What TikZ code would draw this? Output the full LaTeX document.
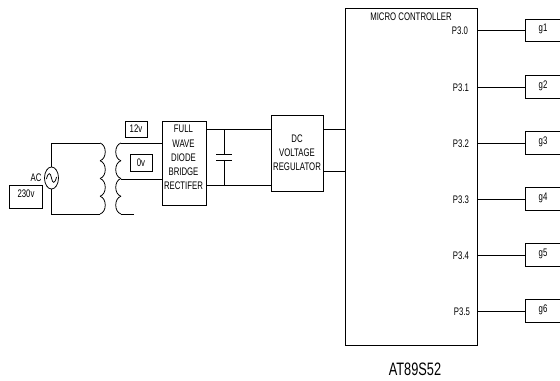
\documentclass[tikz,border=0pt]{standalone}
\usepackage{fontspec}
\setmainfont[FakeStretch=0.71]{Liberation Sans}
\usetikzlibrary{shapes.geometric}
\tikzset{
  txt/.style={inner sep=0pt,align=center,font=\fontsize{7.8}{10.1}\selectfont},
  blk/.style={draw,txt,minimum width=#1}
}
\begin{document}
\begin{tikzpicture}[x=0.025cm,y=-0.025cm,line width=0.55pt]
\clip (0,0) rectangle (560,381);

% mains side
\node[draw,txt,minimum width=0.825cm,minimum height=0.575cm] (volt) at (25.5,196.5) {};
\node[txt] (volttxt) at (26,194) {230v};
\node[txt] (ac) at (36,178) {AC};
\node[draw,ellipse,inner sep=0pt,minimum width=0.35cm,minimum height=0.55cm] (src) at (51.5,178) {};
\draw (46.5,179) .. controls (48,172) and (50.5,172) .. (51.5,178)
      .. controls (52.5,184) and (55,184) .. (56.5,177);

% transformer
\coordinate (priT) at (100,143);
\coordinate (priB) at (100,214);
\coordinate (secT) at (121,143);
\coordinate (secM) at (121,179);
\coordinate (secB) at (134,214);
\foreach \y in {143,160.75,178.5,196.25}{
  \draw (100,\y) .. controls (107,\y+2) and (107,\y+15.75) .. (100,\y+17.75);
  \draw (121,\y) .. controls (114,\y+2) and (114,\y+15.75) .. (121,\y+17.75);
}
\draw (src.north) |- (priT);
\draw (src.south) |- (priB);
\draw (secB) -- (121,214);

\node[blk=0.55cm,minimum height=0.4cm] (sec12) at (136,129) {12v};
\node[blk=0.55cm,minimum height=0.425cm] (sec0) at (141,162.5) {0v};

% rectifier
\node[draw,minimum width=1.1cm,minimum height=2.1cm] (rect) at (184,163) {};
\node[txt] (recttxt) at (183.5,157.5) {FULL\\WAVE\\DIODE\\BRIDGE\\RECTIFER};
\draw (secT) -- (secT -| rect.west);
\draw (secM) -- (secM -| rect.west);

% regulator
\node[draw,minimum width=1.3cm,minimum height=1.9cm] (reg) at (297,153) {};
\node[txt] (regtxt) at (297,152.5) {DC\\VOLTAGE\\REGULATOR};
\coordinate (railT) at (206,129);
\coordinate (railB) at (206,185);
\draw (railT) -- (railT -| reg.west);
\draw (railB) -- (railB -| reg.west);

% capacitor
\coordinate (capT) at (224,154);
\coordinate (capB) at (224,160);
\draw (capT) -- (capT |- railT);
\draw (capB) -- (capB |- railB);
\draw (216,154) -- (232,154);
\draw (216,160) -- (232,160);

% controller
\node[draw,minimum width=3.3cm,minimum height=8.425cm] (mcu) at (411,176.5) {};
\node[txt] (mcutxt) at (411,16.5) {MICRO CONTROLLER};
\node[inner sep=0pt,font=\fontsize{12.8}{14}\selectfont] (chip) at (415,369) {AT89S52};
\coordinate (regT) at (323,129);
\coordinate (regB) at (323,171);
\draw (regT) -- (regT -| mcu.west);
\draw (regB) -- (regB -| mcu.west);

% outputs
\foreach \i/\p/\yy/\px in {1/0/30.5/460,2/1/87/461,3/2/143/461,4/3/199/461,5/4/255/461,6/5/311/462}{
  \node[blk=0.95cm,minimum height=0.56cm] (g\i) at (544,\yy) {};
  \node[txt] (gtxt\i) at (543,\yy-1.5) {g\i};
  \node[txt] (pin\i) at (\px,\yy+0.5+0.1*\i) {P3.\p};
  \draw (g\i.west) -- (g\i.west -| mcu.east);
}
\end{tikzpicture}
\end{document}
